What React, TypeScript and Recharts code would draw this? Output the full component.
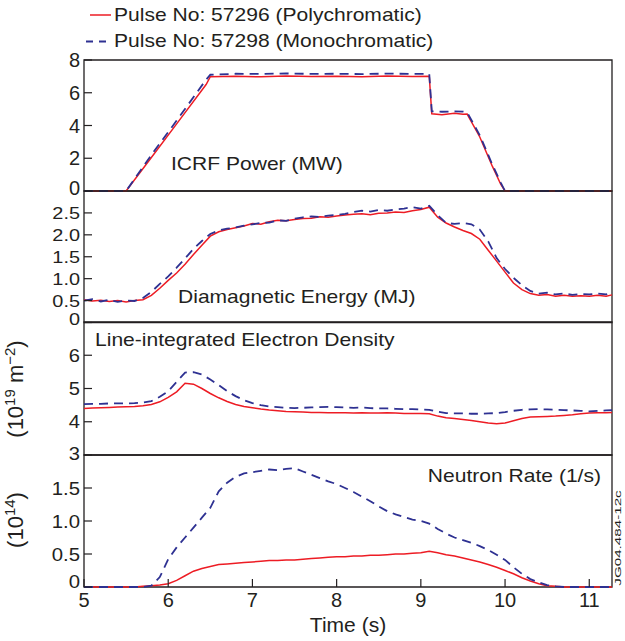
import React from 'react';
import { LineChart, Line, XAxis, YAxis, ReferenceArea } from 'recharts';

// ICRF power (MW), piecewise ramps so it has its own time base
const ICRF_TIME = [5.0, 5.5, 5.8, 6.1, 6.45, 6.5, 6.8, 7.1, 7.4, 7.7, 8.0, 8.3, 8.6, 8.9, 9.1, 9.13, 9.25, 9.4, 9.5, 9.55, 9.7, 9.85, 9.95, 10.0, 10.5, 11.27];
const ICRF_POLY = [0, 0, 2.05, 4.1, 6.5, 6.98, 7.0, 6.97, 7.02, 6.99, 7.01, 6.98, 7.02, 7.0, 7.01, 4.72, 4.65, 4.75, 4.68, 4.7, 3.3, 1.5, 0.4, 0, 0, 0];
const ICRF_MONO = [0, 0, 2.2, 4.3, 6.8, 7.1, 7.16, 7.15, 7.18, 7.15, 7.16, 7.14, 7.17, 7.15, 7.15, 4.86, 4.84, 4.86, 4.85, 4.8, 3.4, 1.6, 0.5, 0, 0, 0];

// shared time base for the other three traces (s)
const TIME = [
  5.0, 5.1, 5.2, 5.3, 5.4, 5.5, 5.6, 5.7, 5.8, 5.9,
  6.0, 6.1, 6.2, 6.3, 6.4, 6.5, 6.6, 6.7, 6.8, 6.9,
  7.0, 7.1, 7.2, 7.3, 7.4, 7.5, 7.6, 7.7, 7.8, 7.9,
  8.0, 8.1, 8.2, 8.3, 8.4, 8.5, 8.6, 8.7, 8.8, 8.9,
  9.0, 9.1, 9.2, 9.3, 9.4, 9.5, 9.6, 9.7, 9.8, 9.9,
  10.0, 10.1, 10.2, 10.3, 10.4, 10.5, 10.6, 10.7, 10.8, 10.9,
  11.0, 11.1, 11.2, 11.27,
];

// diamagnetic energy (MJ)
const DIA_POLY = [
  0.52, 0.49, 0.51, 0.48, 0.5, 0.47, 0.5, 0.52, 0.62, 0.78,
  0.96, 1.13, 1.33, 1.55, 1.76, 1.97, 2.07, 2.12, 2.16, 2.2,
  2.26, 2.24, 2.3, 2.33, 2.32, 2.35, 2.37, 2.38, 2.41, 2.4,
  2.43, 2.45, 2.47, 2.48, 2.46, 2.49, 2.5, 2.52, 2.51, 2.55,
  2.58, 2.63, 2.4, 2.27, 2.18, 2.1, 2.03, 1.9, 1.65, 1.4,
  1.15, 0.9, 0.75, 0.66, 0.62, 0.64, 0.6, 0.62, 0.6, 0.61,
  0.6, 0.62, 0.6, 0.63,
];
const DIA_MONO = [
  0.5, 0.53, 0.48, 0.52, 0.47, 0.5, 0.49, 0.56, 0.7, 0.88,
  1.05, 1.25, 1.46, 1.68, 1.86, 2.02, 2.1, 2.14, 2.17, 2.21,
  2.24, 2.27, 2.28, 2.33, 2.32, 2.37, 2.4, 2.42, 2.41, 2.44,
  2.45, 2.48, 2.52, 2.55, 2.53, 2.57, 2.55, 2.58, 2.6, 2.63,
  2.6, 2.66, 2.45, 2.27, 2.25, 2.27, 2.24, 2.12, 1.85, 1.47,
  1.22, 1.02, 0.85, 0.72, 0.66, 0.68, 0.64, 0.66, 0.63, 0.65,
  0.64, 0.66, 0.64, 0.68,
];

// line-integrated electron density (1e19 m^-2)
const DEN_POLY = [
  4.4, 4.41, 4.42, 4.43, 4.44, 4.45, 4.46, 4.48, 4.52, 4.6,
  4.73, 4.9, 5.16, 5.13, 5.0, 4.85, 4.72, 4.61, 4.52, 4.46,
  4.42, 4.38, 4.35, 4.33, 4.31, 4.3, 4.29, 4.28, 4.28, 4.27,
  4.27, 4.27, 4.26, 4.27, 4.26, 4.26, 4.27, 4.26, 4.25, 4.25,
  4.25, 4.24, 4.17, 4.12, 4.1, 4.07, 4.04, 4.0, 3.96, 3.94,
  3.96, 4.03, 4.1, 4.14, 4.15, 4.16, 4.17, 4.19, 4.21, 4.24,
  4.26, 4.27, 4.27, 4.28,
];
const DEN_MONO = [
  4.53, 4.54, 4.54, 4.55, 4.55, 4.55, 4.56, 4.58, 4.62, 4.75,
  4.92, 5.2, 5.48, 5.49, 5.42, 5.27, 5.1, 4.92, 4.77, 4.65,
  4.56, 4.5, 4.46, 4.44, 4.42, 4.41, 4.42, 4.43, 4.44, 4.45,
  4.44, 4.43, 4.42, 4.43, 4.41, 4.4, 4.4, 4.39, 4.38, 4.38,
  4.37, 4.36, 4.3, 4.26, 4.25, 4.25, 4.24, 4.24, 4.25, 4.26,
  4.29, 4.33, 4.36, 4.37, 4.38, 4.37, 4.36, 4.35, 4.34, 4.33,
  4.31, 4.33, 4.34, 4.35,
];

// neutron rate (1e14 /s)
const NEU_POLY = [
  0, 0, 0, 0, 0, 0, 0, 0.01, 0.02, 0.03,
  0.05, 0.1, 0.17, 0.24, 0.28, 0.31, 0.34, 0.35, 0.36, 0.37,
  0.38, 0.39, 0.4, 0.4, 0.41, 0.41, 0.42, 0.43, 0.44, 0.45,
  0.46, 0.46, 0.47, 0.47, 0.48, 0.48, 0.49, 0.5, 0.5, 0.51,
  0.52, 0.54, 0.52, 0.49, 0.47, 0.44, 0.41, 0.38, 0.34, 0.3,
  0.25, 0.2, 0.14, 0.09, 0.05, 0.02, 0.01, 0, 0, 0,
  0, 0, 0, 0,
];
const NEU_MONO = [
  0, 0, 0, 0, 0, 0, 0, 0, 0.02, 0.15,
  0.42, 0.6, 0.75, 0.9, 1.05, 1.2, 1.45, 1.58, 1.67, 1.72,
  1.74, 1.76, 1.78, 1.77, 1.79, 1.8, 1.75, 1.7, 1.65, 1.6,
  1.56, 1.5, 1.44, 1.37, 1.3, 1.22, 1.15, 1.1, 1.06, 1.02,
  1.0, 0.96, 0.88, 0.81, 0.75, 0.71, 0.67, 0.62, 0.56, 0.49,
  0.41, 0.3, 0.2, 0.12, 0.07, 0.03, 0.01, 0, 0, 0,
  0, 0, 0, 0,
];

const X_TICKS = [5, 6, 7, 8, 9, 10, 11];
const X_DOMAIN = [5, 11.27];

const RED = '#ed1c24';
const BLUE = '#2e3192';
const INK = '#231f20';
const FONT = '"Liberation Sans", Arial, Helvetica, sans-serif';

const W = 625;
const AXIS_W = 84;
const RIGHT = 13;
const PAD = 14; // room above/below each plot so edge tick labels are not cut

const rows = (t: number[], a: number[], b: number[]) => t.map((v, i) => ({ t: v, poly: a[i], mono: b[i] }));

const PANELS = [
  { key: 'icrf', top: 59.5, h: 131, domain: [0, 8], ticks: [0, 2, 4, 6, 8], fs: 20, sx: 1, lift: 3.5, fmt: (v: number) => String(v), data: rows(ICRF_TIME, ICRF_POLY, ICRF_MONO) },
  { key: 'dia', top: 190.5, h: 131.5, domain: [0, 3], ticks: [0, 0.5, 1, 1.5, 2, 2.5], fs: 17, sx: 1.17, lift: 4, fmt: (v: number) => (v === 0 ? '0' : v.toFixed(1)), data: rows(TIME, DIA_POLY, DIA_MONO) },
  { key: 'den', top: 322, h: 133, domain: [3, 7], ticks: [3, 4, 5, 6], fs: 18, sx: 1.12, lift: 1, fmt: (v: number) => String(v), data: rows(TIME, DEN_POLY, DEN_MONO) },
  { key: 'neu', top: 455, h: 132, domain: [0, 2], ticks: [0, 0.5, 1, 1.5], fs: 18.5, sx: 1.1, lift: 6, fmt: (v: number) => (v === 0 ? '0' : v.toFixed(1)), data: rows(TIME, NEU_POLY, NEU_MONO) },
];

function YTick(props: any) {
  const { x, y, payload, fs, sx, lift, fmt, min } = props;
  const yy = y + fs * 0.36 - (payload.value === min ? lift : 0);
  return (
    <text transform={`translate(${x},${yy}) scale(${sx},1)`} textAnchor="end" fontSize={fs} fontFamily={FONT} fill={INK}>
      {fmt(payload.value)}
    </text>
  );
}

function XTick(props: any) {
  const { x, y, payload } = props;
  return (
    <text x={x} y={y} dy="0.71em" textAnchor="middle" fontSize={20} fontFamily={FONT} fill={INK}>
      {payload.value}
    </text>
  );
}

function Panel({ p, last }: { p: any; last: boolean }) {
  const xh = last ? 30 : 0;
  return (
    <div style={{ position: 'absolute', left: 0, top: p.top - PAD }}>
      <LineChart width={W} height={p.h + 2 * PAD + xh} data={p.data} margin={{ top: PAD, right: RIGHT, bottom: PAD, left: 0 }}>
        <XAxis
          type="number"
          dataKey="t"
          domain={X_DOMAIN}
          ticks={X_TICKS}
          interval={0}
          height={xh}
          axisLine={false}
          tickSize={-8}
          tickMargin={14}
          tickLine={{ stroke: INK, strokeWidth: 1.2 }}
          tick={last ? <XTick /> : false}
        />
        <YAxis
          type="number"
          domain={p.domain}
          ticks={p.ticks}
          interval={0}
          width={AXIS_W}
          axisLine={false}
          tickSize={-8}
          tickMargin={12}
          tickLine={{ stroke: INK, strokeWidth: 1.2 }}
          tick={(tp: any) => <YTick {...tp} fs={p.fs} sx={p.sx} lift={p.lift} fmt={p.fmt} min={p.domain[0]} />}
        />
        <ReferenceArea
          x1={X_DOMAIN[0]}
          x2={X_DOMAIN[1]}
          y1={p.domain[0]}
          y2={p.domain[1]}
          fill="none"
          stroke={INK}
          strokeWidth={1.3}
          ifOverflow="visible"
        />
        <Line type="linear" dataKey="poly" stroke={RED} strokeWidth={1.5} dot={false} isAnimationActive={false} />
        <Line type="linear" dataKey="mono" stroke={BLUE} strokeWidth={1.8} strokeDasharray="9 6" dot={false} isAnimationActive={false} />
      </LineChart>
    </div>
  );
}

const label = (x: number, y: number, text: string, anchor = 'start', fs = 18, sx = 1.17) => (
  <text transform={`translate(${x},${y}) scale(${sx},1)`} textAnchor={anchor} fontSize={fs} fontFamily={FONT} fill={INK}>
    {text}
  </text>
);

export default function App() {
  return (
    <div style={{ position: 'absolute', left: 0, top: 0, width: W, height: 641, background: '#fff' }}>
      {PANELS.map((p, i) => (
        <Panel key={p.key} p={p} last={i === PANELS.length - 1} />
      ))}
      <svg width={W} height={641} style={{ position: 'absolute', left: 0, top: 0, pointerEvents: 'none' }}>
        {/* legend */}
        <line x1={90} x2={111} y1={15} y2={15} stroke={RED} strokeWidth={1.5} />
        <line x1={86} x2={108} y1={41.5} y2={41.5} stroke={BLUE} strokeWidth={1.8} strokeDasharray="7 6" />
        {label(114, 21, 'Pulse No: 57296 (Polychromatic)')}
        {label(114, 47, 'Pulse No: 57298 (Monochromatic)')}

        {/* panel titles */}
        {label(171, 170, 'ICRF Power (MW)')}
        {label(178, 303, 'Diamagnetic Energy (MJ)')}
        {label(95, 346, 'Line-integrated Electron Density')}
        {label(601, 482, 'Neutron Rate (1/s)', 'end')}
        {label(348, 632, 'Time (s)', 'middle', 19.5, 1.08)}

        {/* rotated unit labels */}
        <text transform="translate(23,389) rotate(-90)" textAnchor="middle" fontSize={22} fontFamily={FONT} fill={INK}>
          (10<tspan fontSize={15} dy={-8}>19</tspan>
          <tspan dy={8}> m</tspan>
          <tspan fontSize={15} dy={-8}>−2</tspan>
          <tspan dy={8}>)</tspan>
        </text>
        <text transform="translate(23,520) rotate(-90)" textAnchor="middle" fontSize={22} fontFamily={FONT} fill={INK}>
          (10<tspan fontSize={15} dy={-8}>14</tspan>
          <tspan dy={8}>)</tspan>
        </text>
        <text transform="translate(621,538) rotate(-90) scale(1.6,1)" textAnchor="middle" fontSize={9.5} fontFamily={FONT} fill={INK}>
          JG04.484-12c
        </text>
      </svg>
    </div>
  );
}
